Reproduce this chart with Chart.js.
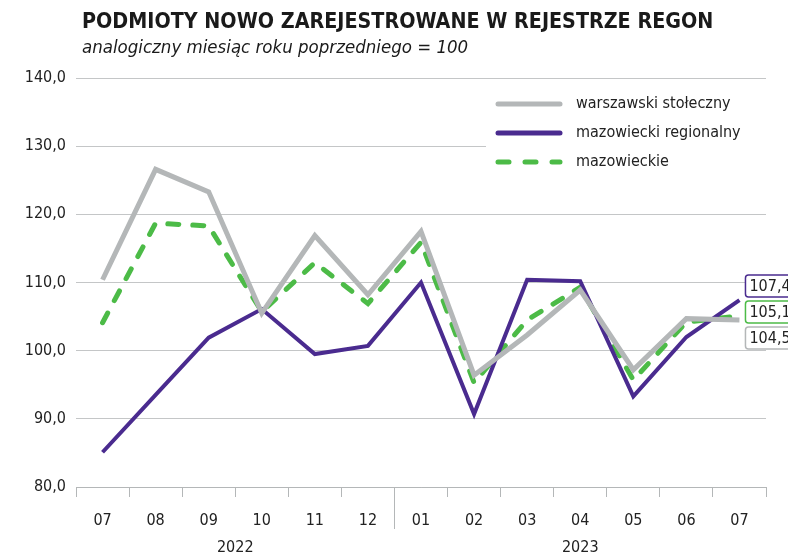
<!DOCTYPE html>
<html>
<head>
<meta charset="utf-8">
<script src="https://cdn.jsdelivr.net/npm/chart.js@4"></script>
<style>
  html, body { margin: 0; padding: 0; background: #fff; }
  #wrap { position: relative; width: 788px; height: 554px; }
  #title { position: absolute; left: 82px; top: 8px; font: bold 21.3px "Liberation Sans Narrow", "DejaVu Sans Condensed", sans-serif; color: #1a1a1a; white-space: nowrap; }
  #subtitle { position: absolute; left: 82px; top: 36px; font: italic 18.5px "Liberation Sans Narrow", "DejaVu Sans Condensed", sans-serif; color: #1a1a1a; white-space: nowrap; }
  canvas { position: absolute; left: 0; top: 0; }
</style>
</head>
<body>
<div id="wrap">
  <canvas id="chart" width="788" height="554"></canvas>
  <div id="title">PODMIOTY NOWO ZAREJESTROWANE W REJESTRZE REGON</div>
  <div id="subtitle">analogiczny miesiąc roku poprzedniego = 100</div>
</div>
<script>
// dane
const months = ['07', '08', '09', '10', '11', '12', '01', '02', '03', '04', '05', '06', '07'];
const years = [{ label: '2022', from: 0, to: 5 }, { label: '2023', from: 6, to: 12 }];
const warszawski = [110.4, 126.6, 123.3, 105.5, 116.9, 108.2, 117.5, 96.4, 102.3, 108.9, 97.2, 104.7, 104.5];
const regionalny = [85.1, 93.5, 101.9, 106.1, 99.5, 100.7, 110.0, 90.7, 110.4, 110.2, 93.3, 102.0, 107.4];
const mazowieckie = [104.1, 118.7, 118.3, 105.7, 112.9, 106.9, 115.9, 95.3, 104.5, 109.3, 95.7, 104.2, 105.1];

const FONT = '"Liberation Sans Narrow", "DejaVu Sans Condensed", sans-serif';
const C_GRAY = '#b4b7b8';
const C_PURPLE = '#4a2b8f';
const C_GREEN = '#4cbb47';
const fmt = v => v.toFixed(1).replace('.', ',');

// legenda + tło pod nią (zakrywa siatkę)
const legendPlugin = {
  id: 'customLegend',
  beforeDatasetsDraw(chart) {
    const ctx = chart.ctx;
    ctx.save();
    ctx.fillStyle = '#fff';
    ctx.fillRect(486, 84, 300, 96);
    const items = [
      { text: 'warszawski stołeczny', color: C_GRAY, dash: [] },
      { text: 'mazowiecki regionalny', color: C_PURPLE, dash: [] },
      { text: 'mazowieckie', color: C_GREEN, dash: [11, 16] }
    ];
    items.forEach((it, i) => {
      const y = 104 + i * 29;
      ctx.strokeStyle = it.color;
      ctx.lineWidth = 5;
      ctx.lineCap = 'round';
      ctx.setLineDash(it.dash);
      ctx.beginPath();
      ctx.moveTo(498, y);
      ctx.lineTo(560, y);
      ctx.stroke();
      ctx.setLineDash([]);
      ctx.fillStyle = '#222';
      ctx.font = '16px ' + FONT;
      ctx.textBaseline = 'middle';
      ctx.fillText(it.text, 576, y);
    });
    ctx.restore();
  },
  afterDraw(chart) {
    const ctx = chart.ctx;
    const x = chart.scales.x;
    const area = chart.chartArea;
    ctx.save();
    // separator roku
    const sep = (x.getPixelForValue(5) + x.getPixelForValue(6)) / 2;
    ctx.strokeStyle = '#b4b7b8';
    ctx.lineWidth = 1;
    ctx.beginPath();
    ctx.moveTo(Math.round(sep) + 0.5, area.bottom);
    ctx.lineTo(Math.round(sep) + 0.5, area.bottom + 42);
    ctx.stroke();
    // lata
    ctx.fillStyle = '#222';
    ctx.font = '16px ' + FONT;
    ctx.textAlign = 'center';
    ctx.textBaseline = 'middle';
    years.forEach(y => {
      const cx = (x.getPixelForValue(y.from) + x.getPixelForValue(y.to)) / 2;
      ctx.fillText(y.label, cx, area.bottom + 61);
    });
    // etykiety ostatnich wartości
    const last = months.length - 1;
    const labels = [
      { v: regionalny[last], color: C_PURPLE },
      { v: mazowieckie[last], color: C_GREEN },
      { v: warszawski[last], color: C_GRAY }
    ];
    const mid = chart.scales.y.getPixelForValue(mazowieckie[last]) - 4;
    const bx = x.getPixelForValue(last) + 6;
    ctx.textAlign = 'left';
    ctx.font = '16px ' + FONT;
    labels.forEach((l, i) => {
      const cy = mid + (i - 1) * 26;
      ctx.fillStyle = '#fff';
      ctx.strokeStyle = l.color;
      ctx.lineWidth = 1.5;
      ctx.beginPath();
      ctx.roundRect(bx, cy - 11, 50, 22, 3);
      ctx.fill();
      ctx.stroke();
      ctx.fillStyle = '#222';
      ctx.fillText(fmt(l.v), bx + 4, cy + 1);
    });
    ctx.restore();
  }
};

new Chart(document.getElementById('chart'), {
  type: 'line',
  data: {
    labels: months,
    datasets: [
      { label: 'warszawski stołeczny', data: warszawski, borderColor: C_GRAY, borderWidth: 5, pointRadius: 0, tension: 0, borderJoinStyle: 'miter' },
      { label: 'mazowiecki regionalny', data: regionalny, borderColor: C_PURPLE, borderWidth: 4, pointRadius: 0, tension: 0, borderJoinStyle: 'miter' },
      { label: 'mazowieckie', data: mazowieckie, borderColor: C_GREEN, borderWidth: 5, pointRadius: 0, tension: 0, borderDash: [11, 14], borderCapStyle: 'round' }
    ]
  },
  options: {
    responsive: false,
    animation: false,
    layout: { padding: { top: 78, right: 22, left: 0, bottom: 0 } },
    plugins: { legend: { display: false }, tooltip: { enabled: false } },
    scales: {
      x: {
        offset: true,
        grid: { display: true, drawOnChartArea: false, offset: true, color: '#b4b7b8', tickLength: 10 },
        border: { display: true, color: '#b4b7b8' },
        ticks: { color: '#222', font: { family: FONT, size: 16 }, padding: 14, maxRotation: 0 },
        afterFit: s => { s.height = 67; }
      },
      y: {
        min: 80,
        max: 140,
        ticks: { stepSize: 10, color: '#222', font: { family: FONT, size: 16 }, padding: 10, callback: v => fmt(v) },
        grid: { color: '#c4c6c7', drawTicks: false },
        border: { display: false },
        afterFit: s => { s.width = 76; }
      }
    }
  },
  plugins: [legendPlugin]
});
</script>
</body>
</html>
